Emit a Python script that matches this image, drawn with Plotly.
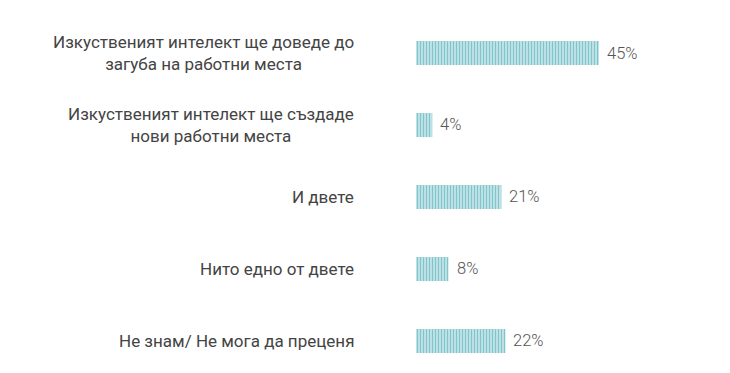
import plotly.graph_objects as go

categories = [
    "Изкуственият интелект ще доведе до<br>загуба на работни места",
    "Изкуственият интелект ще създаде<br>нови работни места",
    "И двете",
    "Нито едно от двете",
    "Не знам/ Не мога да преценя",
]
values = [45, 4, 21, 8, 22]
value_labels = ["45%", "4%", "21%", "8%", "22%"]

positions = list(range(len(categories)))
bar_color = "#80C5CC"

fig = go.Figure()
fig.add_trace(go.Bar(
    x=values,
    y=positions,
    orientation="h",
    width=0.333,
    marker=dict(
        color="white",
        line=dict(width=0),
        pattern=dict(shape="|", fgcolor=bar_color, bgcolor="white", size=3, solidity=0.68, fillmode="replace"),
    ),
    hoverinfo="skip",
))

for p, cat in zip(positions, categories):
    fig.add_annotation(
        x=0, xref="paper", y=p, yref="y",
        text=cat, showarrow=False, xanchor="right", yanchor="middle",
        align="center", xshift=-60,
        font=dict(family="Roboto", size=17, color="#444444"),
    )
for p, v, lab in zip(positions, values, value_labels):
    fig.add_annotation(
        x=v, xref="x", y=p, yref="y",
        text=lab, showarrow=False, xanchor="left", yanchor="middle",
        xshift=6,
        font=dict(family="Roboto", size=16.5, color="#555555", weight=300),
    )

fig.update_layout(
    width=730, height=373,
    margin=dict(l=408, r=17, t=0, b=0),
    paper_bgcolor="white", plot_bgcolor="white",
    showlegend=False,
    xaxis=dict(range=[0, 75], visible=False, fixedrange=True),
    yaxis=dict(range=[4.556, -0.625], visible=False, fixedrange=True),
)

fig.write_html("out.html")
